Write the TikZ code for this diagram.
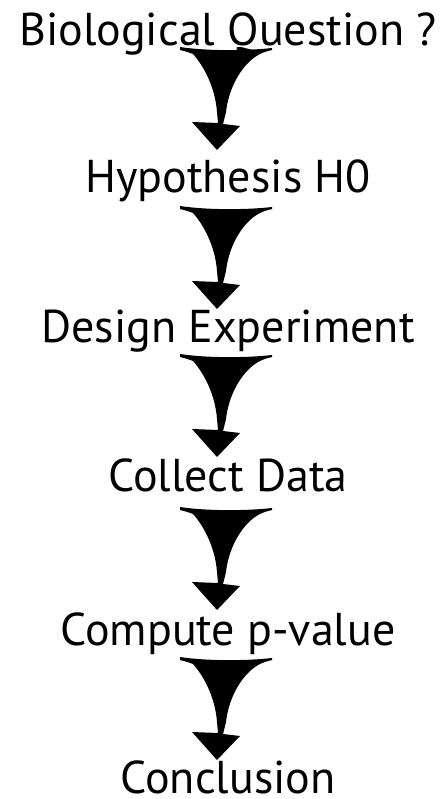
\documentclass[tikz,border=0pt]{standalone}
\usepackage{fontspec}
\setmainfont{PT Sans}
\usetikzlibrary{calc}

\begin{document}
\begin{tikzpicture}[x=1pt, y=-1pt]
\def\stepX{228}
\def\fontSize{46}
\useasboundingbox (0,0) rectangle (444,799);
% the steps, one per line (y is the baseline)
\foreach \txt/\y [count=\i] in {Biological Question ?/46, Hypothesis H0/193, Design Experiment/342, Collect Data/491, Compute p-value/645, Conclusion/793} {
    \node[anchor=base, inner sep=0pt, font=\fontsize{\fontSize}{\fontSize}\selectfont] (s\i) at (\stepX, \y) {\txt};
}
% funnel arrows hanging below each step
\foreach \i/\drop in {1/4, 2/16, 3/15, 4/19, 5/15} {
    \fill[shift={($(s\i.base)+(-2,\drop)$)}] (-46,-3) .. controls (-20,1) and (20,1) .. (46,-2) -- (46,0)
        .. controls (42,1) and (38,2) .. (34,4) .. controls (18,12) and (3,35) .. (0,62) -- (-3,74)
        -- (14,76) -- (-9,100) -- (-34,72) -- (-8,73) -- (-9,62)
        .. controls (-11,35) and (-24,14) .. (-33,4) .. controls (-38,2) and (-42,1) .. (-46,0) -- cycle;
}
\end{tikzpicture}
\end{document}
